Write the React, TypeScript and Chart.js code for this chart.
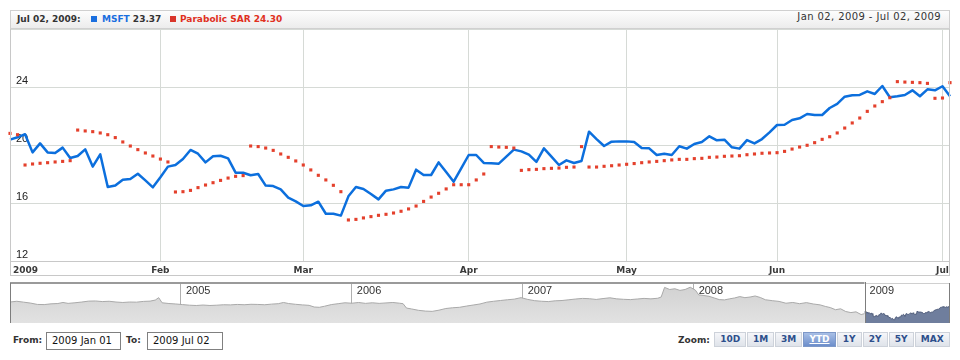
import React, { useEffect, useRef } from 'react';
import { Chart, registerables } from 'chart.js';

Chart.register(...registerables);

// ---- categories: 2009 trading days (day numbers per month) ----
const JAN_DAYS = [2, 5, 6, 7, 8, 9, 12, 13, 14, 15, 16, 20, 21, 22, 23, 26, 27, 28, 29, 30];
const FEB_DAYS = [2, 3, 4, 5, 6, 9, 10, 11, 12, 13, 17, 18, 19, 20, 23, 24, 25, 26, 27];
const MAR_DAYS = [2, 3, 4, 5, 6, 9, 10, 11, 12, 13, 16, 17, 18, 19, 20, 23, 24, 25, 26, 27, 30, 31];
const APR_DAYS = [1, 2, 3, 6, 7, 8, 9, 13, 14, 15, 16, 17, 20, 21, 22, 23, 24, 27, 28, 29, 30];
const MAY_DAYS = [1, 4, 5, 6, 7, 8, 11, 12, 13, 14, 15, 18, 19, 20, 21, 22, 26, 27, 28, 29];
const JUN_DAYS = [1, 2, 3, 4, 5, 8, 9, 10, 11, 12, 15, 16, 17, 18, 19, 22, 23, 24, 25, 26, 29, 30];
const JUL_DAYS = [1, 2];
const MONTH_TICK_LABELS = ['2009', 'Feb', 'Mar', 'Apr', 'May', 'Jun', 'Jul'];

// ---- series ----
const MSFT_CLOSE = [
  20.37, 20.53, 20.74, 19.49, 20.11, 19.49, 19.45, 19.82, 19.10, 19.24, 19.70, 18.51, 19.36, 17.10, 17.20, 17.61, 17.66, 18.02, 17.56, 17.08,
  17.77, 18.51, 18.62, 19.03, 19.66, 19.40, 18.80, 19.22, 19.26, 19.08, 18.09, 18.09, 17.91, 18.00, 17.20, 17.17, 16.94, 16.37, 16.11,
  15.79, 15.84, 16.09, 15.26, 15.26, 15.13, 16.46, 17.10, 16.97, 16.62, 16.25, 16.85, 16.94, 17.10, 17.06, 18.30, 17.93, 17.93, 18.80, 18.14, 17.47, 18.39,
  19.31, 19.31, 18.76, 18.74, 18.71, 19.20, 19.68, 19.56, 19.33, 18.83, 19.77, 19.20, 18.62, 18.94, 18.76, 18.90, 20.92, 20.41, 19.93, 20.23, 20.25,
  20.25, 20.20, 19.79, 19.77, 19.31, 19.40, 19.31, 19.91, 19.75, 20.07, 20.21, 20.60, 20.32, 20.37, 19.84, 19.75, 20.34, 20.11, 20.41, 20.87,
  21.38, 21.40, 21.72, 21.84, 22.14, 22.07, 22.07, 22.55, 22.83, 23.33, 23.43, 23.45, 23.70, 23.52, 24.07, 23.29, 23.36, 23.45, 23.77, 23.36, 23.84, 23.77,
  24.05, 23.37,
];
const PARABOLIC_SAR = [
  20.80, 20.71, 18.62, 18.69, 18.74, 18.78, 18.83, 18.87, 18.92, 21.03, 20.97, 20.92, 20.83, 20.71, 20.51, 20.21, 19.93, 19.68, 19.45, 19.24,
  19.03, 18.83, 16.76, 16.78, 16.87, 17.06, 17.24, 17.40, 17.56, 17.72, 17.84, 17.89, 19.93, 19.89, 19.79, 19.63, 19.38, 19.15, 18.90,
  18.62, 18.28, 17.91, 17.59, 17.22, 16.78, 14.83, 14.87, 14.97, 15.06, 15.15, 15.22, 15.31, 15.43, 15.59, 15.79, 16.11, 16.41, 16.67, 16.97, 17.26, 17.26,
  17.26, 17.59, 18.00, 19.89, 19.86, 19.84, 19.79, 18.25, 18.30, 18.32, 18.37, 18.39, 18.41, 18.46, 18.48, 19.89, 18.48, 18.48, 18.53, 18.57, 18.62,
  18.67, 18.72, 18.78, 18.83, 18.87, 18.92, 18.97, 19.01, 19.01, 19.06, 19.08, 19.15, 19.17, 19.22, 19.24, 19.26, 19.33, 19.38, 19.43, 19.45,
  19.47, 19.56, 19.72, 19.86, 19.98, 20.16, 20.39, 20.57, 20.83, 21.17, 21.52, 21.86, 22.32, 22.69, 22.99, 23.26, 24.37, 24.34, 24.32, 24.30, 24.25, 23.22,
  23.24, 24.30,
];
const Y_TICKS = [12, 16, 20, 24, 28];

// ---- navigator (2004 - 2008 history, fractional years) ----
const NAV_DATES = [
  2004.00, 2004.04, 2004.08, 2004.12, 2004.16, 2004.20, 2004.24, 2004.28, 2004.31, 2004.34, 2004.38, 2004.42, 2004.46, 2004.50, 2004.54,
  2004.58, 2004.62, 2004.66, 2004.70, 2004.74, 2004.78, 2004.82, 2004.85, 2004.87, 2004.89, 2004.93, 2004.97,
  2005.01, 2005.05, 2005.09, 2005.13, 2005.17, 2005.21, 2005.25, 2005.29, 2005.33, 2005.37, 2005.41, 2005.45, 2005.49, 2005.53,
  2005.57, 2005.60, 2005.63, 2005.67, 2005.71, 2005.75, 2005.78, 2005.81, 2005.84, 2005.88, 2005.92, 2005.96,
  2006.00, 2006.04, 2006.08, 2006.12, 2006.16, 2006.20, 2006.24, 2006.28, 2006.30, 2006.32, 2006.35, 2006.39, 2006.43, 2006.47,
  2006.51, 2006.55, 2006.59, 2006.63, 2006.67, 2006.71, 2006.75, 2006.79, 2006.83, 2006.87, 2006.91, 2006.95, 2006.99,
  2007.03, 2007.07, 2007.11, 2007.15, 2007.19, 2007.23, 2007.27, 2007.31, 2007.35, 2007.39, 2007.43, 2007.47, 2007.51, 2007.55,
  2007.59, 2007.63, 2007.67, 2007.71, 2007.75, 2007.79, 2007.81, 2007.83, 2007.86, 2007.89, 2007.92, 2007.95, 2007.98,
  2008.01, 2008.03, 2008.06, 2008.09, 2008.12, 2008.15, 2008.18, 2008.21, 2008.24, 2008.27, 2008.30, 2008.33, 2008.36, 2008.39,
  2008.42, 2008.46, 2008.50, 2008.54, 2008.58, 2008.62, 2008.66, 2008.70, 2008.74, 2008.77, 2008.80, 2008.83, 2008.86, 2008.89,
  2008.92, 2008.95, 2008.98, 2009.00,
];
const NAV_PRICES = [
  26.9, 27.4, 26.8, 26.2, 25.3, 25.2, 25.7, 25.9, 26.6, 26.0, 26.4, 26.9, 27.5, 27.6, 27.2,
  27.4, 26.9, 26.6, 26.9, 26.8, 27.3, 27.5, 28.2, 29.8, 26.4, 25.9, 25.6,
  25.2, 24.8, 24.6, 24.9, 24.6, 24.8, 25.1, 25.0, 25.3, 25.1, 25.4, 25.3, 25.1, 25.5,
  25.8, 26.6, 25.9, 25.4, 25.0, 24.7, 23.6, 23.4, 24.1, 25.2, 25.8, 26.4,
  26.1, 26.6, 26.0, 26.4, 26.0, 26.3, 26.6, 26.1, 25.8, 22.9, 22.3, 21.4, 20.9, 20.7,
  21.5, 22.6, 23.1, 23.4, 24.2, 24.9, 25.6, 26.8, 27.4, 27.9, 28.4, 28.8, 29.8,
  28.6, 27.8, 27.4, 27.2, 27.7, 27.9, 28.4, 28.9, 29.3, 29.1, 28.6, 29.2, 29.7, 29.0,
  28.7, 28.5, 28.9, 29.3, 29.0, 29.4, 30.2, 36.6, 35.2, 35.7, 34.6, 35.2, 36.7,
  34.8, 31.6, 31.2, 30.7, 29.6, 28.5, 28.3, 29.0, 29.6, 30.5, 29.8, 30.2, 30.9, 29.9,
  28.4, 27.8, 27.3, 26.1, 26.6, 25.8, 26.5, 25.6, 25.0, 24.0, 23.2, 21.8, 22.4, 20.6,
  19.9, 20.4, 18.6, 19.2,
];
const NAV_YEAR_LABELS = ['2005', '2006', '2007', '2008', '2009'];

const ZOOM_BUTTONS = ['10D', '1M', '3M', 'YTD', '1Y', '2Y', '5Y', 'MAX'];
const ZOOM_ACTIVE = 'YTD';

// ---- derived ----
const pad = (n: number) => (n < 10 ? '0' + n : '' + n);
const TRADING_DATES: string[] = [];
const MONTH_START: number[] = [];
[JAN_DAYS, FEB_DAYS, MAR_DAYS, APR_DAYS, MAY_DAYS, JUN_DAYS, JUL_DAYS].forEach((days, mi) => {
  MONTH_START.push(TRADING_DATES.length);
  days.forEach((d) => TRADING_DATES.push(`2009-${pad(mi + 1)}-${pad(d)}`));
});

const UI_FONT = '"DejaVu Sans", Verdana, sans-serif';
const GRID = '#d6dad6';
const FRAME = '#c8c8c8';

const zeroFit = (s: any) => {
  if (s.isHorizontal()) s.height = 0;
  else s.width = 0;
  s.paddingTop = 0;
  s.paddingBottom = 0;
  s.paddingLeft = 0;
  s.paddingRight = 0;
};

const mainFrame = {
  id: 'mainFrame',
  afterDraw(chart: any) {
    const { ctx, chartArea: a, scales } = chart;
    const x = scales.x;
    ctx.save();
    ctx.strokeStyle = FRAME;
    ctx.lineWidth = 1;
    ctx.beginPath();
    ctx.moveTo(a.left + 0.5, 0);
    ctx.lineTo(a.left + 0.5, a.bottom + 15);
    ctx.moveTo(a.right - 0.5, 0);
    ctx.lineTo(a.right - 0.5, a.bottom + 15);
    ctx.moveTo(a.left, a.bottom + 0.5);
    ctx.lineTo(a.right, a.bottom + 0.5);
    ctx.moveTo(a.left, a.bottom + 14.5);
    ctx.lineTo(a.right, a.bottom + 14.5);
    ctx.stroke();
    ctx.fillStyle = '#3a3a3a';
    ctx.font = 'bold 9px "DejaVu Sans"';
    ctx.textBaseline = 'alphabetic';
    MONTH_START.forEach((idx, k) => {
      const px = x.getPixelForValue(idx);
      if (k === 0) {
        ctx.textAlign = 'left';
        ctx.fillText(MONTH_TICK_LABELS[k], a.left + 3, a.bottom + 12);
      } else {
        ctx.textAlign = 'center';
        ctx.fillText(MONTH_TICK_LABELS[k], px, a.bottom + 12);
      }
    });
    ctx.restore();
  },
};

const navFrame = {
  id: 'navFrame',
  afterDraw(chart: any) {
    const { ctx, chartArea: a, scales } = chart;
    const x = scales.x;
    ctx.save();
    const selL = x.getPixelForValue(2009);
    ctx.strokeStyle = '#9a9a9a';
    ctx.lineWidth = 2;
    ctx.beginPath();
    ctx.moveTo(a.left, a.top);
    ctx.lineTo(selL, a.top);
    ctx.stroke();
    ctx.strokeStyle = '#d0d0d0';
    ctx.lineWidth = 1;
    ctx.beginPath();
    ctx.moveTo(selL, a.top + 0.5);
    ctx.lineTo(a.right, a.top + 0.5);
    ctx.stroke();
    ctx.strokeStyle = '#7d7d7d';
    ctx.beginPath();
    ctx.moveTo(Math.round(selL) + 0.5, a.top - 1);
    ctx.lineTo(Math.round(selL) + 0.5, a.bottom);
    ctx.moveTo(a.right - 0.5, a.top);
    ctx.lineTo(a.right - 0.5, a.bottom);
    ctx.moveTo(a.left + 0.5, a.top);
    ctx.lineTo(a.left + 0.5, a.bottom);
    ctx.stroke();
    ctx.fillStyle = '#333';
    ctx.font = '11px "Liberation Sans", Arial';
    ctx.textAlign = 'left';
    ctx.textBaseline = 'alphabetic';
    NAV_YEAR_LABELS.forEach((lab) => {
      const px = x.getPixelForValue(Number(lab));
      ctx.fillText(lab, px + 5, a.top + 11);
    });
    ctx.restore();
  },
};

export default function App() {
  const mainRef = useRef<HTMLCanvasElement>(null);
  const navRef = useRef<HTMLCanvasElement>(null);

  useEffect(() => {
    document.body.style.margin = '0';
    const main = new Chart(mainRef.current!, {
      type: 'line',
      data: {
        labels: TRADING_DATES,
        datasets: [
          {
            label: 'Parabolic SAR',
            data: PARABOLIC_SAR,
            showLine: false,
            pointStyle: 'rect',
            pointRadius: 2.2,
            pointBackgroundColor: '#e4402c',
            pointBorderWidth: 0,
            order: 0,
          },
          {
            label: 'MSFT',
            data: MSFT_CLOSE,
            borderColor: '#0c6fdd',
            borderWidth: 2.5,
            pointRadius: 0,
            tension: 0,
            borderJoinStyle: 'round',
            order: 1,
          },
        ],
      },
      options: {
        animation: false,
        responsive: false,
        maintainAspectRatio: false,
        layout: { autoPadding: false, padding: { left: 10, right: 10, top: 0, bottom: 15 } },
        plugins: { legend: { display: false }, tooltip: { enabled: false } },
        scales: {
          x: {
            type: 'category',
            offset: false,
            afterFit: zeroFit,
            ticks: { display: false, autoSkip: false },
            grid: {
              color: (c: any) => (MONTH_START.includes(c.index) ? GRID : 'rgba(0,0,0,0)'),
              drawTicks: false,
            },
            border: { display: false },
          },
          y: {
            min: Y_TICKS[0],
            max: Y_TICKS[Y_TICKS.length - 1],
            afterBuildTicks: (s: any) => {
              s.ticks = Y_TICKS.map((v) => ({ value: v }));
            },
            afterFit: zeroFit,
            ticks: {
              mirror: true,
              padding: 6,
              labelOffset: -6,
              color: '#222',
              font: { family: '"Liberation Sans", Arial', size: 11 },
              callback: (v: any) => (v === Y_TICKS[Y_TICKS.length - 1] ? '' : String(v)),
            },
            grid: { color: GRID, drawTicks: false },
            border: { display: false },
          },
        },
      },
      plugins: [mainFrame],
    } as any);

    const nav2009 = MSFT_CLOSE.map((v, i) => ({ x: 2009 + (i * 0.5) / (MSFT_CLOSE.length - 1), y: v }));
    const navHist = NAV_DATES.map((d, i) => ({ x: d, y: NAV_PRICES[i] }));
    const nav = new Chart(navRef.current!, {
      type: 'line',
      data: {
        datasets: [
          {
            data: navHist,
            borderColor: '#a9a9a9',
            borderWidth: 1,
            pointRadius: 0,
            fill: 'start',
            backgroundColor: (c: any) => {
              const ch = c.chart;
              const a = ch.chartArea;
              if (!a) return '#d8d8d8';
              const g = ch.ctx.createLinearGradient(0, a.top, 0, a.bottom);
              g.addColorStop(0, '#d0d0d0');
              g.addColorStop(1, '#e2e2e2');
              return g;
            },
          },
          {
            data: nav2009,
            borderColor: '#515e7c',
            borderWidth: 1,
            pointRadius: 0,
            fill: 'start',
            backgroundColor: '#6f7e9d',
          },
        ],
      },
      options: {
        animation: false,
        responsive: false,
        maintainAspectRatio: false,
        layout: { autoPadding: false, padding: { left: 10, right: 10, top: 1, bottom: 0 } },
        plugins: { legend: { display: false }, tooltip: { enabled: false } },
        scales: {
          x: {
            type: 'linear',
            min: 2004,
            max: 2009.5,
            afterFit: zeroFit,
            ticks: { display: false, stepSize: 1 },
            grid: {
              color: (c: any) => (c.tick && c.tick.value >= 2009 ? 'rgba(0,0,0,0)' : '#b0b0b0'),
              drawTicks: false,
            },
            border: { display: false },
          },
          y: { display: false, min: 13, max: 39.5 },
        },
      },
      plugins: [navFrame],
    } as any);

    return () => {
      main.destroy();
      nav.destroy();
    };
  }, []);

  const boldTxt: React.CSSProperties = {
    position: 'absolute',
    font: `bold 9px ${UI_FONT}`,
    lineHeight: '18px',
    color: '#333',
    whiteSpace: 'nowrap',
  };
  const inputBox: React.CSSProperties = {
    position: 'absolute',
    top: 332,
    height: 18,
    boxSizing: 'border-box',
    border: '1px solid #808080',
    background: '#fff',
    font: `10px ${UI_FONT}`,
    lineHeight: '16px',
    paddingLeft: 5,
    color: '#111',
    whiteSpace: 'nowrap',
  };
  const btnWidths = [33, 27.7, 28.3, 33.4, 26, 26, 26, 36];
  let bx = 714.3;

  return (
    <div
      style={{
        position: 'absolute',
        left: 0,
        top: 0,
        width: 960,
        height: 360,
        background: '#fff',
        overflow: 'hidden',
        fontFamily: UI_FONT,
      }}
    >
      {/* header */}
      <div
        style={{
          position: 'absolute',
          left: 10,
          top: 10,
          width: 940,
          height: 19,
          boxSizing: 'border-box',
          border: '1px solid #d0d0d0',
          background: 'linear-gradient(#fdfdfd, #ececec)',
        }}
      />
      <div style={{ ...boldTxt, left: 17, top: 10 }}>Jul 02, 2009:</div>
      <div style={{ position: 'absolute', left: 91, top: 16, width: 6, height: 6, background: '#1a6fdf' }} />
      <div style={{ ...boldTxt, left: 102, top: 10 }}>
        <span style={{ color: '#1a6fdf' }}>MSFT</span> 23.37
      </div>
      <div style={{ position: 'absolute', left: 170, top: 16, width: 6, height: 6, background: '#d9352a' }} />
      <div style={{ ...boldTxt, left: 180, top: 10, color: '#e0301e' }}>Parabolic SAR 24.30</div>
      <div
        style={{
          position: 'absolute',
          right: 19,
          top: 7.5,
          font: `10px ${UI_FONT}`,
          letterSpacing: '0.4px',
          lineHeight: '18px',
          color: '#333',
          whiteSpace: 'nowrap',
        }}
      >
        Jan 02, 2009 - Jul 02, 2009
      </div>

      <canvas ref={mainRef} width={960} height={247} style={{ position: 'absolute', left: 0, top: 29 }} />
      <canvas ref={navRef} width={960} height={41} style={{ position: 'absolute', left: 0, top: 282 }} />

      {/* bottom controls */}
      <div style={{ ...boldTxt, left: 13, top: 331 }}>From:</div>
      <div style={{ ...inputBox, left: 46, width: 75 }}>2009 Jan 01</div>
      <div style={{ ...boldTxt, left: 126, top: 331 }}>To:</div>
      <div style={{ ...inputBox, left: 147, width: 76 }}>2009 Jul 02</div>
      <div style={{ ...boldTxt, left: 678, top: 331 }}>Zoom:</div>
      {ZOOM_BUTTONS.map((b, i) => {
        const left = bx;
        const w = btnWidths[i];
        bx += w;
        const active = b === ZOOM_ACTIVE;
        return (
          <div
            key={b}
            style={{
              position: 'absolute',
              left,
              top: 332,
              width: w - 1,
              height: 15,
              boxSizing: 'border-box',
              border: active ? '1px solid #7d98c8' : '1px solid #cdd2da',
              background: active ? 'linear-gradient(#a8bfe6, #6c8ecb)' : 'linear-gradient(#f5f6f9, #dfe3ea)',
              color: active ? '#fff' : '#2d4f8c',
              font: `bold 9px ${UI_FONT}`,
              lineHeight: '13px',
              textAlign: 'center',
              textDecoration: active ? 'underline' : 'none',
            }}
          >
            {b}
          </div>
        );
      })}
    </div>
  );
}
